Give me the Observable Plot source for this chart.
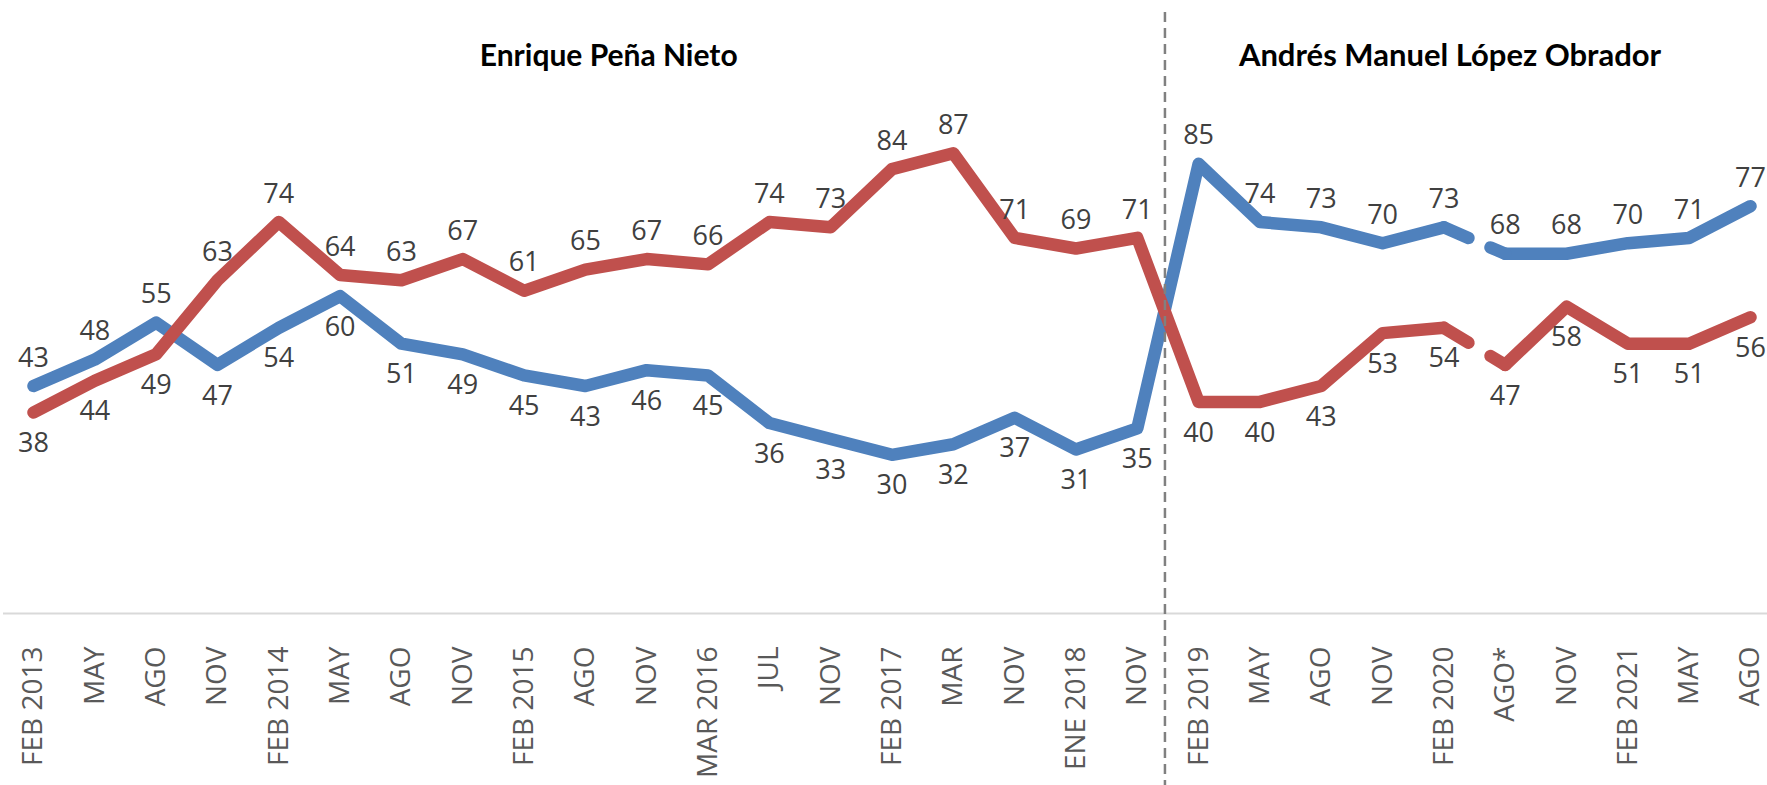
<!DOCTYPE html>
<html>
<head>
<meta charset="utf-8">
<script src="https://cdn.jsdelivr.net/npm/d3@7"></script>
<script src="https://cdn.jsdelivr.net/npm/@observablehq/plot@0.6"></script>
<style>
  html, body { margin: 0; padding: 0; background: #ffffff; }
  #chart { width: 1767px; height: 785px; overflow: hidden; }
</style>
</head>
<body>
<div id="chart"></div>
<script>
// ---- Data ----
const categories = ["FEB 2013","MAY","AGO","NOV","FEB 2014","MAY","AGO","NOV","FEB 2015","AGO","NOV","MAR 2016","JUL","NOV","FEB 2017","MAR","NOV","ENE 2018","NOV","FEB 2019","MAY","AGO","NOV","FEB 2020","AGO*","NOV","FEB 2021","MAY","AGO"];
const blueValues = [43,48,55,47,54,60,51,49,45,43,46,45,36,33,30,32,37,31,35,85,74,73,70,73,68,68,70,71,77];
const redValues  = [38,44,49,63,74,64,63,67,61,65,67,66,74,73,84,87,71,69,71,40,40,43,53,54,47,58,51,51,56];
const presidents = ["Enrique Peña Nieto", "Andrés Manuel López Obrador"];
const lastIndexFirstTerm = 18;   // NOV (2018)
const breakAfterIndex = 23;      // FEB 2020 -> AGO* (method change)

const BLUE = "#4F81BD", RED = "#C0504D";

function seriesRows(values, other) {
  return values.map((v, i) => ({
    i, v,
    seg: i <= breakAfterIndex ? 0 : 1,
    above: v > other[i]
  }));
}
const blueRows = seriesRows(blueValues, redValues);
const redRows = seriesRows(redValues, blueValues);
const gapLinks = [
  {x1: breakAfterIndex, y1: blueValues[breakAfterIndex], x2: breakAfterIndex + 1, y2: blueValues[breakAfterIndex + 1]},
  {x1: breakAfterIndex, y1: redValues[breakAfterIndex], x2: breakAfterIndex + 1, y2: redValues[breakAfterIndex + 1]}
];

const lineStyle = {strokeWidth: 12.5, strokeLinejoin: "round", strokeLinecap: "round"};
const labelFont = {fontSize: 27, fontFamily: "'Open Sans', 'Noto Sans', sans-serif", fill: "#404040", lineAnchor: "middle"};
const titleFont = {fontSize: 30, fontWeight: "bold", fill: "#000000", fontFamily: "Lato, 'Open Sans', sans-serif", lineAnchor: "middle"};

function labelMarks(rows) {
  return [
    Plot.text(rows.filter(d => d.above), {x: "i", y: "v", text: d => String(d.v), dy: -28, ...labelFont}),
    Plot.text(rows.filter(d => !d.above), {x: "i", y: "v", text: d => String(d.v), dy: 31, ...labelFont})
  ];
}

const plot = Plot.plot({
  width: 1767,
  height: 785,
  marginTop: 84,
  marginBottom: 172,
  marginLeft: 3,
  marginRight: 0,
  style: {background: "#ffffff", color: "#595959", fontFamily: "'Open Sans', 'Noto Sans', sans-serif"},
  x: {type: "linear", domain: [0, categories.length - 1], range: [33, 1750], axis: null},
  y: {domain: [0, 100], axis: null},
  marks: [
    Plot.ruleY([0], {stroke: "#d9d9d9", strokeWidth: 2}),
    Plot.axisX(d3.range(categories.length), {
      tickFormat: i => categories[i],
      tickRotate: -90, tickSize: 0, tickPadding: 33,
      fontSize: 28, fill: "#595959", label: null
    }),
    Plot.line(blueRows, {x: "i", y: "v", z: "seg", stroke: BLUE, ...lineStyle}),
    Plot.link([gapLinks[0]], {x1: "x1", y1: "y1", x2: "x2", y2: "y2", stroke: BLUE, ...lineStyle}),
    Plot.line(redRows, {x: "i", y: "v", z: "seg", stroke: RED, ...lineStyle}),
    Plot.link([gapLinks[1]], {x1: "x1", y1: "y1", x2: "x2", y2: "y2", stroke: RED, ...lineStyle}),
    ...labelMarks(blueRows),
    ...labelMarks(redRows),
    Plot.ruleX([lastIndexFirstTerm + 0.5], {dx: -3, stroke: "#808080", strokeWidth: 2.5, strokeDasharray: "10,6", insetTop: -72, insetBottom: -172}),
    Plot.text([presidents[0]], {x: 9.38, y: 100, dy: -28, text: d => d, ...titleFont}),
    Plot.text([presidents[1]], {x: 23.1, y: 100, dy: -28, text: d => d, ...titleFont, fontSize: 31})
  ]
});

// break the FEB 2020 -> AGO* connection into two partial pieces
plot.querySelectorAll('g[aria-label="link"] path').forEach(p => {
  p.setAttribute("pathLength", "100");
  p.setAttribute("stroke-dasharray", "40 36 100");
});

document.getElementById("chart").appendChild(plot);
</script>
</body>
</html>
